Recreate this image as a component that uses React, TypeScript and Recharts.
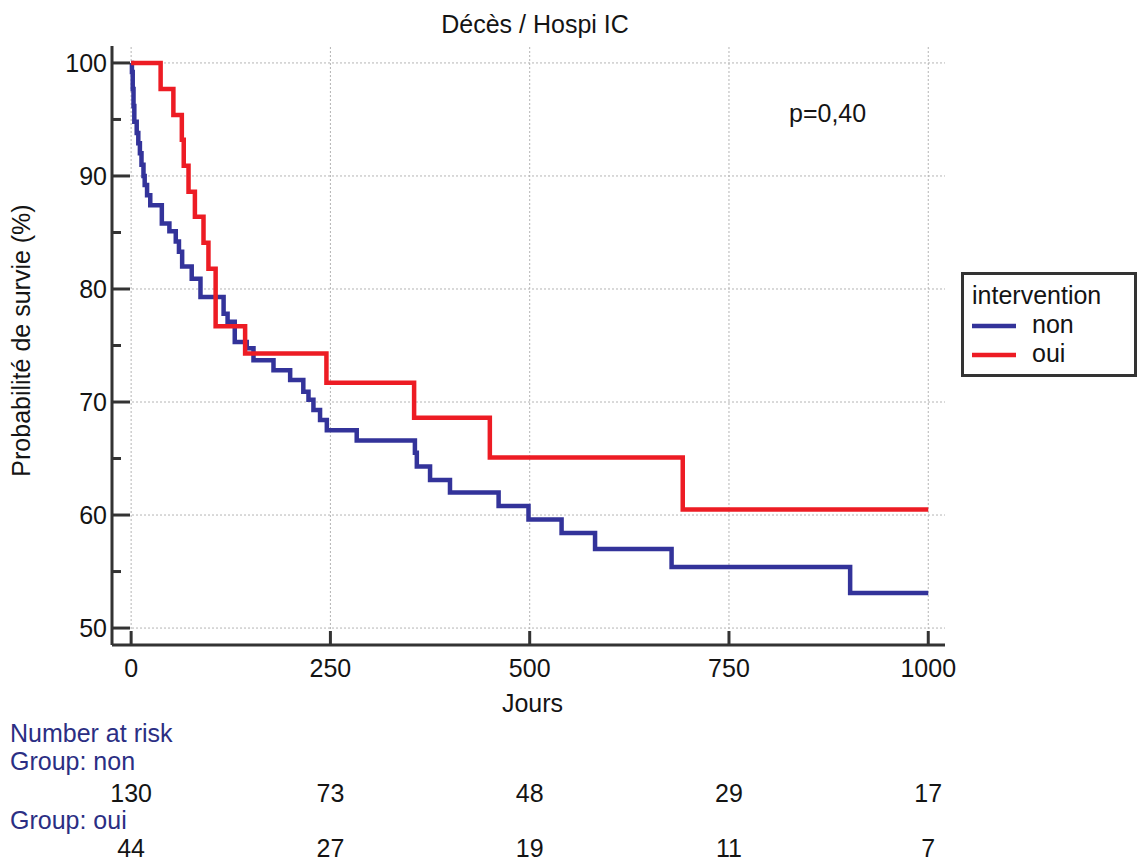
import React from 'react';
import { LineChart, Line, XAxis, YAxis, ReferenceLine } from 'recharts';

const FONT = '"Liberation Sans", Arial, Helvetica, sans-serif';

// Kaplan-Meier steps, group "non"
const nonDays = [0, 1, 2, 3, 4, 7, 9, 11, 13, 15.5, 17, 20, 24, 38.5, 48, 56, 60, 64, 76, 87, 116, 121, 130, 145, 153.5, 178.6, 199.5, 216, 222.5, 228.7, 237, 245.5, 283, 356, 358.4, 375, 400, 461, 498.5, 540, 582, 678, 902, 1000];
const nonSurv = [100, 99.2, 97.7, 96.2, 94.8, 93.8, 92.9, 92.0, 91.0, 90.0, 89.2, 88.3, 87.4, 85.8, 85.1, 84.2, 83.3, 82.0, 80.9, 79.3, 77.8, 77.1, 75.3, 74.75, 73.7, 72.8, 71.95, 70.9, 70.2, 69.3, 68.4, 67.5, 66.6, 65.5, 64.3, 63.1, 62.0, 60.8, 59.6, 58.4, 57.0, 55.4, 53.1, 53.1];

// Kaplan-Meier steps, group "oui"
const ouiDays = [0, 37, 53, 63.6, 66, 72, 80, 90.8, 97, 106, 143, 245, 355, 450, 692, 1000];
const ouiSurv = [100, 97.7, 95.4, 93.2, 90.9, 88.6, 86.4, 84.1, 81.8, 76.7, 74.3, 71.7, 68.6, 65.1, 60.5, 60.5];

const xTicks = [0, 250, 500, 750, 1000];
const yTicks = [50, 55, 60, 65, 70, 75, 80, 85, 90, 95, 100];
const yMajor = [50, 60, 70, 80, 90, 100];
const riskNon = [130, 73, 48, 29, 17];
const riskOui = [44, 27, 19, 11, 7];

const groupNames = ['non', 'oui'];
const groupColors = ['#33339a', '#ed1c24'];

const nonData = nonDays.map((day, i) => ({ day, surv: nonSurv[i] }));
const ouiData = ouiDays.map((day, i) => ({ day, surv: ouiSurv[i] }));

const TXT = '#141414';
const AXIS = '#333333';

function XTick(props: any) {
  const { x, y, payload } = props;
  const i = xTicks.indexOf(payload.value);
  return (
    <g>
      <line x1={x} x2={x} y1={y} y2={y - 14} stroke={AXIS} strokeWidth={3} />
      <text x={x} y={y + 32} textAnchor="middle" fontSize={25} fill={TXT} fontFamily={FONT}>{payload.value}</text>
      <text x={x} y={y + 157} textAnchor="middle" fontSize={25} fill={TXT} fontFamily={FONT}>{riskNon[i]}</text>
      <text x={x} y={y + 212} textAnchor="middle" fontSize={25} fill={TXT} fontFamily={FONT}>{riskOui[i]}</text>
    </g>
  );
}

function YTick(props: any) {
  const { x, y, payload } = props;
  const major = yMajor.indexOf(payload.value) >= 0;
  const ax = x + 5;
  return (
    <g>
      <line x1={ax} x2={ax + (major ? 18 : 9)} y1={y} y2={y} stroke={AXIS} strokeWidth={3} />
      {major ? (
        <text x={x} y={y} dy="0.36em" textAnchor="end" fontSize={25} fill={TXT} fontFamily={FONT}>{payload.value}</text>
      ) : null}
    </g>
  );
}

export default function App() {
  return (
    <div style={{ position: 'absolute', left: 0, top: 0, width: 1139, height: 863, background: '#fff', fontFamily: FONT }}>
      <LineChart width={1139} height={863} margin={{ top: 46, right: 194, bottom: 0, left: 0 }}>
        {yMajor.map((v) => (
          <ReferenceLine key={'gy' + v} y={v} stroke="#b4b4b4" strokeDasharray="2 2" strokeWidth={1} />
        ))}
        {xTicks.map((v) => (
          <ReferenceLine key={'gx' + v} x={v} stroke="#b4b4b4" strokeDasharray="2 2" strokeWidth={1} />
        ))}
        <XAxis
          type="number"
          dataKey="day"
          domain={[-24, 1021]}
          ticks={xTicks}
          allowDataOverflow
          height={218}
          tickSize={0}
          tickMargin={0}
          tickLine={false}
          axisLine={{ stroke: AXIS, strokeWidth: 3 }}
          tick={(p: any) => <XTick {...p} />}
          interval={0}
          label={{
            content: (lp: any) => {
              const vb = lp.viewBox || {};
              return (
                <text x={vb.x + vb.width / 2 + 4} y={vb.y + 67} textAnchor="middle" fontSize={25} fill={TXT} fontFamily={FONT}>Jours</text>
              );
            },
          }}
        />
        <YAxis
          type="number"
          domain={[48.5, 101.5]}
          ticks={yTicks}
          allowDataOverflow
          width={112}
          tickSize={0}
          tickMargin={5}
          tickLine={false}
          axisLine={{ stroke: AXIS, strokeWidth: 3 }}
          tick={(p: any) => <YTick {...p} />}
          interval={0}
          label={{
            content: (lp: any) => {
              const vb = lp.viewBox || {};
              const cx = vb.x + 30;
              const cy = vb.y + vb.height / 2 - 5;
              return (
                <text x={cx} y={cy} transform={`rotate(-90 ${cx} ${cy})`} textAnchor="middle" fontSize={25} fill={TXT} fontFamily={FONT}>Probabilité de survie (%)</text>
              );
            },
          }}
        />
        <Line data={nonData} dataKey="surv" name="non" type="stepAfter" stroke={groupColors[0]} strokeWidth={4.5} dot={false} activeDot={false} isAnimationActive={false} />
        <Line data={ouiData} dataKey="surv" name="oui" type="stepAfter" stroke={groupColors[1]} strokeWidth={4.5} dot={false} activeDot={false} isAnimationActive={false} />
      </LineChart>
      <svg width={1139} height={863} style={{ position: 'absolute', left: 0, top: 0, pointerEvents: 'none' }}>
        <text x={535} y={33} textAnchor="middle" fontSize={25} fill={TXT} fontFamily={FONT}>Décès / Hospi IC</text>
        <text x={789} y={122} fontSize={25} fill={TXT} fontFamily={FONT}>p=0,40</text>
        <rect x={962.5} y={273.5} width={173} height={102} fill="#fff" stroke={AXIS} strokeWidth={3} />
        <text x={972} y={304} fontSize={25} fill={TXT} fontFamily={FONT}>intervention</text>
        {groupNames.map((g, i) => (
          <g key={g}>
            <line x1={972} x2={1016} y1={326 + i * 29} y2={326 + i * 29} stroke={groupColors[i]} strokeWidth={4.5} />
            <text x={1032} y={333 + i * 29} fontSize={25} fill={TXT} fontFamily={FONT}>{g}</text>
          </g>
        ))}
        <text x={10} y={742} fontSize={25} fill="#2b2e83" fontFamily={FONT}>Number at risk</text>
        <text x={10} y={770} fontSize={25} fill="#2b2e83" fontFamily={FONT}>Group: non</text>
        <text x={10} y={829} fontSize={25} fill="#2b2e83" fontFamily={FONT}>Group: oui</text>
      </svg>
    </div>
  );
}
